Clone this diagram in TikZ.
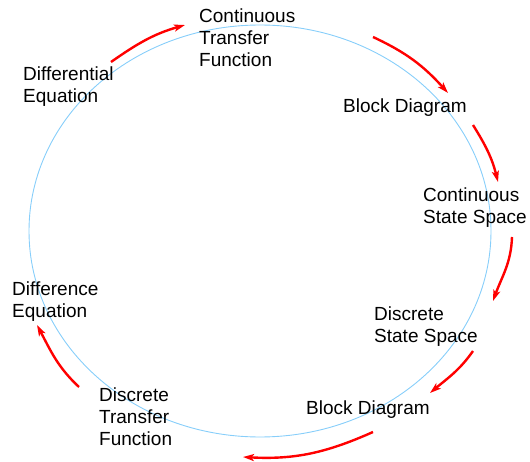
\documentclass[tikz,border=0pt]{standalone}
\usepackage{fontspec}
\setmainfont{Liberation Sans}
\usetikzlibrary{arrows.meta}
\definecolor{ellblue}{RGB}{135,206,250}
\definecolor{arrred}{RGB}{255,0,0}
\begin{document}
\begin{tikzpicture}[x=1pt,y=1pt,
  lbl/.style={anchor=base west,inner sep=0pt,align=left,font=\fontsize{19}{22}\selectfont,text=black},
  flow/.style={draw=arrred,line width=2.4pt,-{Stealth[length=11pt,width=7pt,inset=2.5pt]}}]
\useasboundingbox (0,0) rectangle (530,461);
\coordinate (ctr) at (260,230);
\draw[ellblue,line width=0.9pt] (ctr) ellipse [x radius=231, y radius=206];
% base anchor = baseline of the last line
\node[lbl] (ctf) at (199,394) {Continuous\\Transfer\\Function};
\node[lbl] (deq) at (23,358) {Differential\\Equation};
\node[lbl] (bd1) at (343,348) {Block Diagram};
\node[lbl] (css) at (423,237) {Continuous\\State Space};
\node[lbl] (dss) at (374,119) {Discrete\\State Space};
\node[lbl] (bd2) at (306,47) {Block Diagram};
\node[lbl] (dif) at (12,144) {Difference\\Equation};
\node[lbl] (dtf) at (99,16) {Discrete\\Transfer\\Function};
\coordinate (a1s) at (111,399); \coordinate (a1e) at (185,436);
\coordinate (a2s) at (373,424); \coordinate (a2e) at (448,368);
\coordinate (a3s) at (473,336); \coordinate (a3e) at (498,279);
\coordinate (a4s) at (512,224); \coordinate (a4e) at (493,160);
\coordinate (a5s) at (473,110); \coordinate (a5e) at (430,68);
\coordinate (a6s) at (373,29);  \coordinate (a6e) at (243,4);
\coordinate (a7s) at (79,74);   \coordinate (a7e) at (37,136);
\draw[flow] (a1s) to[out=35,in=196] (a1e);
\draw[flow] (a2s) to[out=-25,in=132] (a2e);
\draw[flow] (a3s) to[out=-58,in=104] (a3e);
\draw[flow] (a4s) to[out=-92,in=70] (a4e);
\draw[flow] (a5s) to[out=-125,in=40] (a5e);
\draw[flow] (a6s) to[out=-156,in=-3] (a6e);
\draw[flow] (a7s) to[out=137,in=-62] (a7e);
\end{tikzpicture}
\end{document}
